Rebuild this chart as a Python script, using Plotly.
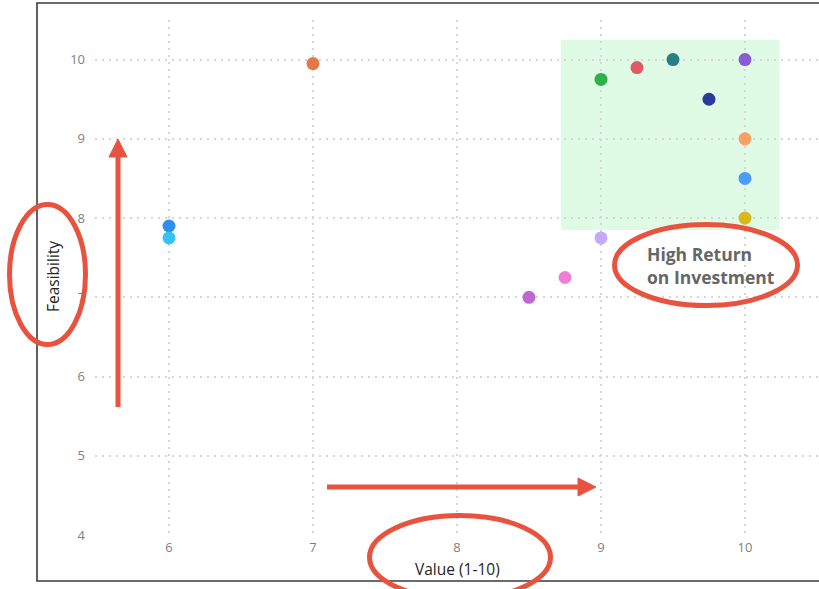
import plotly.graph_objects as go

# ---- data ----
value_x = [6, 6, 7, 8.5, 8.75, 9, 9, 9.25, 9.5, 9.75, 10, 10, 10, 10]
feasibility_y = [7.9, 7.75, 9.95, 7.0, 7.25, 7.75, 9.75, 9.9, 10.0, 9.5, 10.0, 9.0, 8.5, 8.0]
point_colors = ["#2E8FF2", "#33C4F3", "#E37A45", "#BF68CF", "#F07ED6", "#C3AAFD",
                "#2DB14B", "#DF5A62", "#2A7F86", "#2B389C", "#8A5BD4", "#F8A066",
                "#4B9CF4", "#D8B81D"]
x_ticks = [6, 7, 8, 9, 10]
y_ticks = [4, 5, 6, 7, 8, 9, 10]
zone_x = [8.72, 10.24]
zone_y = [7.85, 10.25]
x_title = "Value (1-10)"
y_title = "Feasibility"
callout = "High Return<br>on Investment"

W, H = 819, 589
ML, MR, MT, MB = 95, 0, 20, 54
PW, PH = W - ML - MR, H - MT - MB
RED = "#E8533F"


def px(x):
    return (x - ML) / PW


def py(y):
    return (H - MB - y) / PH


fig = go.Figure()
fig.add_trace(go.Scatter(
    x=value_x, y=feasibility_y, mode="markers",
    marker=dict(size=13, color=point_colors, line=dict(width=0)),
    hoverinfo="skip", showlegend=False,
))

shapes = []
# green high-return zone
shapes.append(dict(type="rect", xref="x", yref="y", x0=zone_x[0], x1=zone_x[1],
                   y0=zone_y[0], y1=zone_y[1], fillcolor="#E0FBE5",
                   line=dict(width=0), layer="below"))
# outer frame
shapes.append(dict(type="rect", xref="paper", yref="paper", x0=px(37), x1=px(840),
                   y0=py(581), y1=py(3), line=dict(color="#3a3a3a", width=1.6),
                   fillcolor="rgba(0,0,0,0)"))
# red ellipses
for (a, b, c, d) in [(9.5, 204.5, 85.5, 344.5), (614.5, 224.5, 797.5, 305.5),
                     (369.5, 515.5, 550.5, 599)]:
    shapes.append(dict(type="circle", xref="paper", yref="paper", x0=px(a), x1=px(c),
                       y0=py(d), y1=py(b), line=dict(color=RED, width=5)))
# vertical arrow
shapes.append(dict(type="line", xref="paper", yref="paper", x0=px(118), x1=px(118),
                   y0=py(407), y1=py(154), line=dict(color=RED, width=5)))
shapes.append(dict(type="path", xref="paper", yref="paper",
                   path=f"M {px(109)} {py(157)} L {px(118)} {py(139)} L {px(127)} {py(157)} Z",
                   fillcolor=RED, line=dict(color=RED, width=1)))
# horizontal arrow
shapes.append(dict(type="line", xref="paper", yref="paper", x0=px(327), x1=px(580),
                   y0=py(487), y1=py(487), line=dict(color=RED, width=5)))
shapes.append(dict(type="path", xref="paper", yref="paper",
                   path=f"M {px(578)} {py(478)} L {px(596)} {py(487)} L {px(578)} {py(496)} Z",
                   fillcolor=RED, line=dict(color=RED, width=1)))

annotations = [
    dict(text=x_title, xref="paper", yref="paper", x=px(457), y=py(569),
         showarrow=False, font=dict(size=15.5, color="#252423", family="Open Sans"),
         xanchor="center", yanchor="middle"),
    dict(text=y_title, xref="paper", yref="paper", x=px(53), y=py(277),
         showarrow=False, textangle=-90,
         font=dict(size=15.5, color="#252423", family="Open Sans"),
         xanchor="center", yanchor="middle"),
    dict(text="<b>" + callout + "</b>", xref="paper", yref="paper", x=px(645), y=py(265.5),
         showarrow=False, align="left",
         font=dict(size=17.5, color="#666666", family="Open Sans"),
         xanchor="left", yanchor="middle"),
]

grid = dict(showgrid=True, gridcolor="#D6D6D6", griddash="2px,5px", gridwidth=1.5,
            zeroline=False, showline=False, ticks="",
            tickfont=dict(size=13, color="#808080", family="Open Sans"))

fig.update_layout(
    width=W, height=H,
    margin=dict(l=ML, r=MR, t=MT, b=MB, autoexpand=False),
    paper_bgcolor="white", plot_bgcolor="white",
    shapes=shapes, annotations=annotations, showlegend=False,
    xaxis=dict(range=[5.486, 10.514], tickvals=x_ticks, ticklabelstandoff=3, **grid),
    yaxis=dict(range=[4, 10.5], tickvals=y_ticks, ticklabelstandoff=9, **grid),
)

fig.write_html("out.html")
